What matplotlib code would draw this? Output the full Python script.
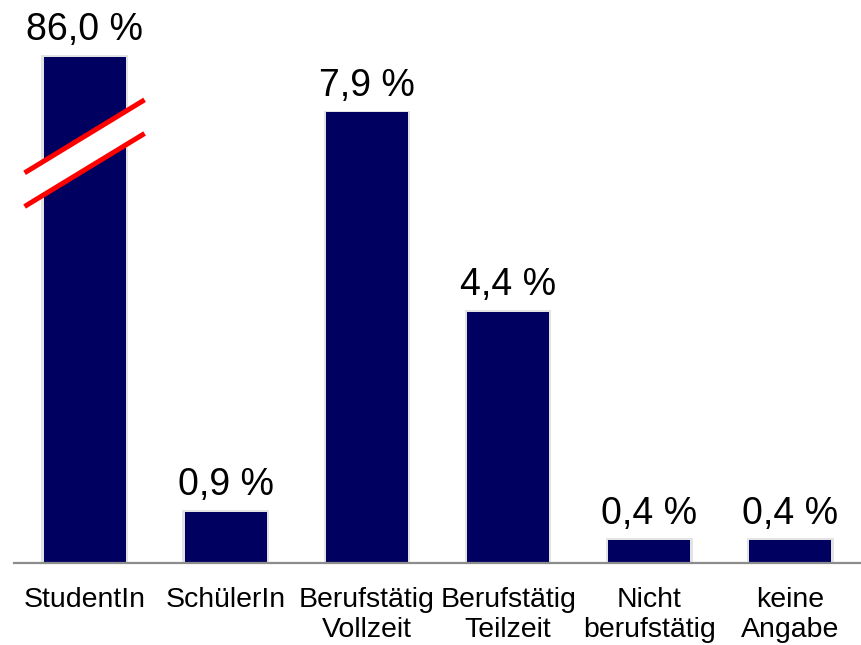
import numpy as np
import matplotlib.pyplot as plt

plt.rcParams['font.family'] = ['Liberation Sans', 'DejaVu Sans']

categories = ['StudentIn', 'SchülerIn', 'Berufstätig\nVollzeit', 'Berufstätig\nTeilzeit',
              'Nicht\nberufstätig', 'keine\nAngabe']
values = [86.0, 0.9, 7.9, 4.4, 0.4, 0.4]
labels = ['86,0 %', '0,9 %', '7,9 %', '4,4 %', '0,4 %', '0,4 %']
cap = 8.87  # drawn height of the broken first bar

shown = [min(v, cap) for v in values]
x = np.arange(len(categories))

fig = plt.figure(figsize=(8.62, 6.45), dpi=100)
ax = fig.add_axes([14/862, 82/645, 847/862, 559/645])

# soft shadow behind bars
ax.bar(x, [h + 0.03 for h in shown], width=0.615, color='#e3e3e3', zorder=1)
ax.bar(x, shown, width=0.58, color='#000060', zorder=2)

for xi, h, lab in zip(x, shown, labels):
    ax.text(xi, h + 0.15, lab, ha='center', va='bottom', fontsize=27, color='black')

# break marks on the first bar
xs = np.array([-0.425, 0.425])
y1 = np.array([6.84, 8.12])
y2 = np.array([6.25, 7.53])
ax.fill_between(xs, y2, y1, color='white', zorder=3)
ax.plot(xs, y1, color='red', lw=3.6, zorder=4, solid_capstyle='butt')
ax.plot(xs, y2, color='red', lw=3.6, zorder=4, solid_capstyle='butt')

ax.set_xlim(-0.5, 5.5)
ax.set_ylim(0, 9.8)
ax.set_xticks(x)
ax.set_xticklabels(categories, fontsize=20.5, linespacing=1.2)
ax.tick_params(axis='x', length=0, pad=17)
ax.set_yticks([])
for s in ['top', 'right', 'left']:
    ax.spines[s].set_visible(False)
ax.spines['bottom'].set_color('#8c8c8c')
ax.spines['bottom'].set_linewidth(1.6)
ax.spines['bottom'].set_zorder(5)

fig.savefig('out.png', dpi=100)
